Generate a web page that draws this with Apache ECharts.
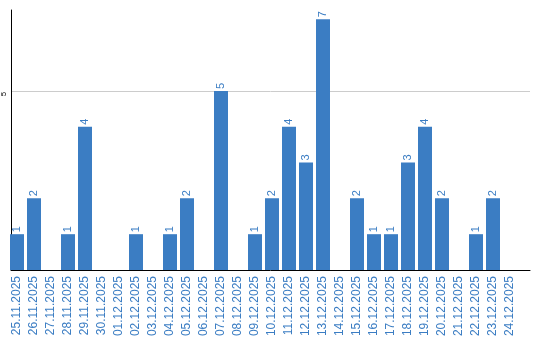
<!DOCTYPE html>
<html><head><meta charset="utf-8">
<script src="https://cdn.jsdelivr.net/npm/echarts@6/dist/echarts.min.js"></script>
<style>html,body{margin:0;padding:0;background:#fff}#c{width:540px;height:340px}</style>
</head><body><div id="c"></div>
<script>
const categories = ['25.11.2025','26.11.2025','27.11.2025','28.11.2025','29.11.2025','30.11.2025','01.12.2025','02.12.2025','03.12.2025','04.12.2025','05.12.2025','06.12.2025','07.12.2025','08.12.2025','09.12.2025','10.12.2025','11.12.2025','12.12.2025','13.12.2025','14.12.2025','15.12.2025','16.12.2025','17.12.2025','18.12.2025','19.12.2025','20.12.2025','21.12.2025','22.12.2025','23.12.2025','24.12.2025'];
const values = [1,2,0,1,4,0,0,1,0,1,2,0,5,0,1,2,4,3,7,0,2,1,1,3,4,2,0,1,2,0];
const yTicks = [5];
const yMax = 7.26;

const blue = '#3b7dc3';
const chart = echarts.init(document.getElementById('c'), null, {renderer:'canvas'});
chart.setOption({
  animation:false,
  grid:[
    {left:8.5, width:510, top:10, height:260, containLabel:false},
    {left:10, width:520, top:10, height:260, containLabel:false}
  ],
  xAxis:[
    {type:'category', gridIndex:0, data:categories,
     axisLine:{show:false}, axisTick:{show:false},
     axisLabel:{rotate:90, color:blue, fontFamily:'Liberation Sans', fontSize:12, margin:6, interval:0}},
    {type:'value', gridIndex:1, min:0, max:1,
     axisLine:{show:true, onZero:false, lineStyle:{color:'#000', width:1}},
     axisTick:{show:false}, axisLabel:{show:false}, splitLine:{show:false}}
  ],
  yAxis:[
    {type:'value', gridIndex:0, min:0, max:yMax, show:false},
    {type:'value', gridIndex:1, min:0, max:yMax, interval:5,
     axisLine:{show:true, lineStyle:{color:'#000', width:1}},
     axisTick:{show:false},
     axisLabel:{show:true, rotate:90, fontSize:8, color:'#000', fontFamily:'Liberation Sans', margin:3,
       padding:[0,6,0,0],
       formatter:v => yTicks.includes(v) ? String(v) : ''},
     splitLine:{show:true, showMinLine:false, showMaxLine:false, lineStyle:{color:'#cccccc', width:1}}}
  ],
  series:[{
    type:'bar', xAxisIndex:0, yAxisIndex:0, data:values, barWidth:14,
    itemStyle:{color:blue},
    label:{show:true, position:'top', rotate:90, align:'left', verticalAlign:'middle', distance:2,
      color:blue, fontSize:11, fontFamily:'Liberation Sans',
      formatter:p => p.value > 0 ? String(p.value) : ''}
  }]
});
</script></body></html>
